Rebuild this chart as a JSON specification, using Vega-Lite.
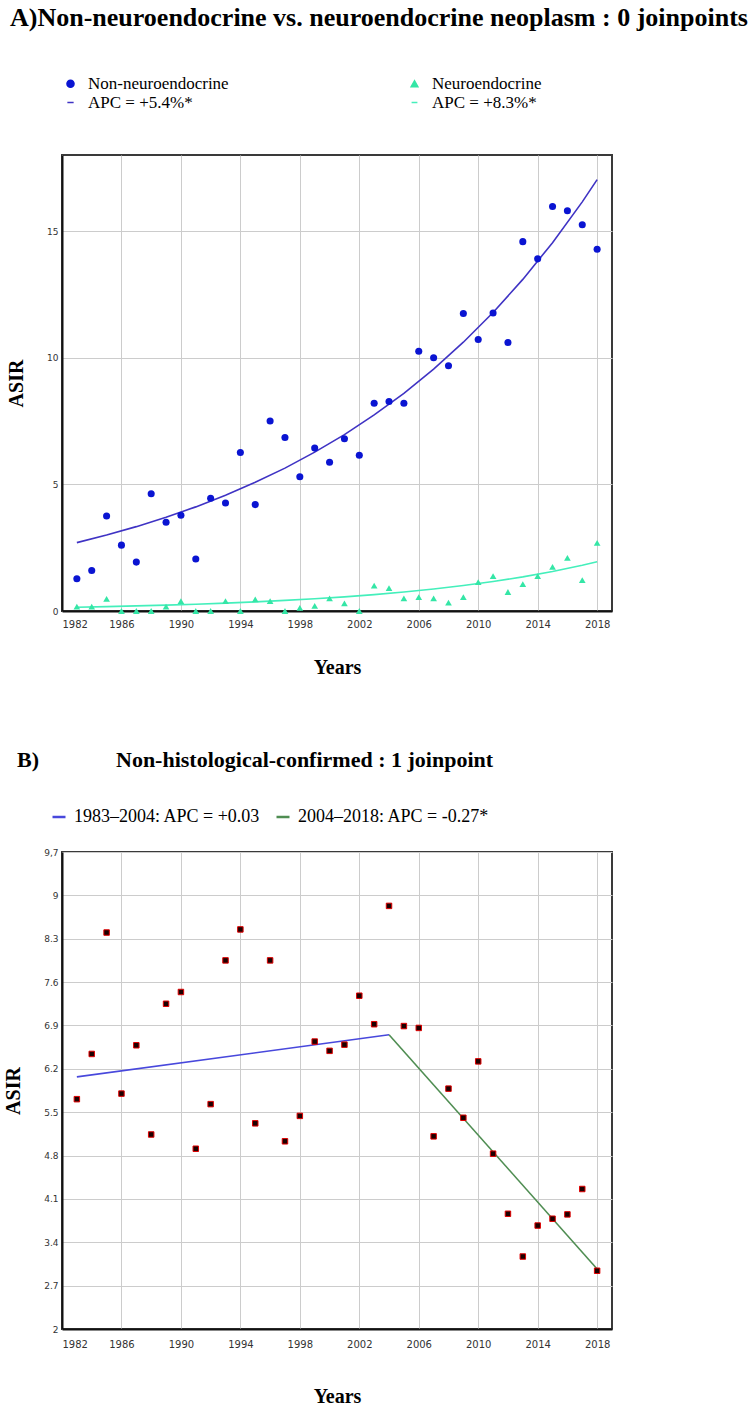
{
  "$schema": "https://vega.github.io/schema/vega-lite/v6.json",
  "padding": {"left": 2, "top": 4, "right": 0, "bottom": 0},
  "background": "white",
  "spacing": 70,
  "resolve": {"scale": {"color": "independent", "shape": "independent", "size": "independent"}, "legend": {"color": "independent", "shape": "independent", "size": "independent"}},
  "datasets": {
    "a_pts": [
      {"year": 1983, "group": "Non-neuroendocrine", "asir": 1.27},
      {"year": 1984, "group": "Non-neuroendocrine", "asir": 1.6},
      {"year": 1985, "group": "Non-neuroendocrine", "asir": 3.75},
      {"year": 1986, "group": "Non-neuroendocrine", "asir": 2.6},
      {"year": 1987, "group": "Non-neuroendocrine", "asir": 1.93},
      {"year": 1988, "group": "Non-neuroendocrine", "asir": 4.63},
      {"year": 1989, "group": "Non-neuroendocrine", "asir": 3.5},
      {"year": 1990, "group": "Non-neuroendocrine", "asir": 3.78},
      {"year": 1991, "group": "Non-neuroendocrine", "asir": 2.05},
      {"year": 1992, "group": "Non-neuroendocrine", "asir": 4.45},
      {"year": 1993, "group": "Non-neuroendocrine", "asir": 4.26},
      {"year": 1994, "group": "Non-neuroendocrine", "asir": 6.26},
      {"year": 1995, "group": "Non-neuroendocrine", "asir": 4.2},
      {"year": 1996, "group": "Non-neuroendocrine", "asir": 7.5},
      {"year": 1997, "group": "Non-neuroendocrine", "asir": 6.85},
      {"year": 1998, "group": "Non-neuroendocrine", "asir": 5.3},
      {"year": 1999, "group": "Non-neuroendocrine", "asir": 6.43},
      {"year": 2000, "group": "Non-neuroendocrine", "asir": 5.87},
      {"year": 2001, "group": "Non-neuroendocrine", "asir": 6.8},
      {"year": 2002, "group": "Non-neuroendocrine", "asir": 6.15},
      {"year": 2003, "group": "Non-neuroendocrine", "asir": 8.2},
      {"year": 2004, "group": "Non-neuroendocrine", "asir": 8.27},
      {"year": 2005, "group": "Non-neuroendocrine", "asir": 8.2},
      {"year": 2006, "group": "Non-neuroendocrine", "asir": 10.25},
      {"year": 2007, "group": "Non-neuroendocrine", "asir": 10.0},
      {"year": 2008, "group": "Non-neuroendocrine", "asir": 9.68},
      {"year": 2009, "group": "Non-neuroendocrine", "asir": 11.74},
      {"year": 2010, "group": "Non-neuroendocrine", "asir": 10.72},
      {"year": 2011, "group": "Non-neuroendocrine", "asir": 11.76},
      {"year": 2012, "group": "Non-neuroendocrine", "asir": 10.6},
      {"year": 2013, "group": "Non-neuroendocrine", "asir": 14.58},
      {"year": 2014, "group": "Non-neuroendocrine", "asir": 13.9},
      {"year": 2015, "group": "Non-neuroendocrine", "asir": 15.97},
      {"year": 2016, "group": "Non-neuroendocrine", "asir": 15.8},
      {"year": 2017, "group": "Non-neuroendocrine", "asir": 15.25},
      {"year": 2018, "group": "Non-neuroendocrine", "asir": 14.28},
      {"year": 1983, "group": "Neuroendocrine", "asir": 0.17},
      {"year": 1984, "group": "Neuroendocrine", "asir": 0.17},
      {"year": 1985, "group": "Neuroendocrine", "asir": 0.48},
      {"year": 1986, "group": "Neuroendocrine", "asir": 0.0},
      {"year": 1987, "group": "Neuroendocrine", "asir": 0.0},
      {"year": 1988, "group": "Neuroendocrine", "asir": 0.0},
      {"year": 1989, "group": "Neuroendocrine", "asir": 0.17},
      {"year": 1990, "group": "Neuroendocrine", "asir": 0.39},
      {"year": 1991, "group": "Neuroendocrine", "asir": 0.0},
      {"year": 1992, "group": "Neuroendocrine", "asir": 0.0},
      {"year": 1993, "group": "Neuroendocrine", "asir": 0.39},
      {"year": 1994, "group": "Neuroendocrine", "asir": 0.0},
      {"year": 1995, "group": "Neuroendocrine", "asir": 0.46},
      {"year": 1996, "group": "Neuroendocrine", "asir": 0.39},
      {"year": 1997, "group": "Neuroendocrine", "asir": 0.0},
      {"year": 1998, "group": "Neuroendocrine", "asir": 0.12},
      {"year": 1999, "group": "Neuroendocrine", "asir": 0.2},
      {"year": 2000, "group": "Neuroendocrine", "asir": 0.5},
      {"year": 2001, "group": "Neuroendocrine", "asir": 0.3},
      {"year": 2002, "group": "Neuroendocrine", "asir": 0.0},
      {"year": 2003, "group": "Neuroendocrine", "asir": 1.0},
      {"year": 2004, "group": "Neuroendocrine", "asir": 0.9},
      {"year": 2005, "group": "Neuroendocrine", "asir": 0.5},
      {"year": 2006, "group": "Neuroendocrine", "asir": 0.55},
      {"year": 2007, "group": "Neuroendocrine", "asir": 0.5},
      {"year": 2008, "group": "Neuroendocrine", "asir": 0.33},
      {"year": 2009, "group": "Neuroendocrine", "asir": 0.55},
      {"year": 2010, "group": "Neuroendocrine", "asir": 1.14},
      {"year": 2011, "group": "Neuroendocrine", "asir": 1.38},
      {"year": 2012, "group": "Neuroendocrine", "asir": 0.75},
      {"year": 2013, "group": "Neuroendocrine", "asir": 1.06},
      {"year": 2014, "group": "Neuroendocrine", "asir": 1.38},
      {"year": 2015, "group": "Neuroendocrine", "asir": 1.74},
      {"year": 2016, "group": "Neuroendocrine", "asir": 2.1},
      {"year": 2017, "group": "Neuroendocrine", "asir": 1.22},
      {"year": 2018, "group": "Neuroendocrine", "asir": 2.69}
    ],
    "a_fit": [
      {"year": 1983, "line": "APC = +5.4%*", "fit": 2.70},
      {"year": 1985, "line": "APC = +5.4%*", "fit": 3.00},
      {"year": 1987, "line": "APC = +5.4%*", "fit": 3.33},
      {"year": 1989, "line": "APC = +5.4%*", "fit": 3.70},
      {"year": 1991, "line": "APC = +5.4%*", "fit": 4.11},
      {"year": 1993, "line": "APC = +5.4%*", "fit": 4.57},
      {"year": 1995, "line": "APC = +5.4%*", "fit": 5.08},
      {"year": 1997, "line": "APC = +5.4%*", "fit": 5.64},
      {"year": 1999, "line": "APC = +5.4%*", "fit": 6.27},
      {"year": 2001, "line": "APC = +5.4%*", "fit": 6.96},
      {"year": 2003, "line": "APC = +5.4%*", "fit": 7.74},
      {"year": 2005, "line": "APC = +5.4%*", "fit": 8.59},
      {"year": 2007, "line": "APC = +5.4%*", "fit": 9.55},
      {"year": 2009, "line": "APC = +5.4%*", "fit": 10.61},
      {"year": 2011, "line": "APC = +5.4%*", "fit": 11.78},
      {"year": 2013, "line": "APC = +5.4%*", "fit": 13.09},
      {"year": 2015, "line": "APC = +5.4%*", "fit": 14.54},
      {"year": 2017, "line": "APC = +5.4%*", "fit": 16.15},
      {"year": 2018, "line": "APC = +5.4%*", "fit": 17.03},
      {"year": 1983, "line": "APC = +8.3%*", "fit": 0.15},
      {"year": 1985, "line": "APC = +8.3%*", "fit": 0.174},
      {"year": 1987, "line": "APC = +8.3%*", "fit": 0.201},
      {"year": 1989, "line": "APC = +8.3%*", "fit": 0.233},
      {"year": 1991, "line": "APC = +8.3%*", "fit": 0.269},
      {"year": 1993, "line": "APC = +8.3%*", "fit": 0.312},
      {"year": 1995, "line": "APC = +8.3%*", "fit": 0.361},
      {"year": 1997, "line": "APC = +8.3%*", "fit": 0.418},
      {"year": 1999, "line": "APC = +8.3%*", "fit": 0.483},
      {"year": 2001, "line": "APC = +8.3%*", "fit": 0.559},
      {"year": 2003, "line": "APC = +8.3%*", "fit": 0.647},
      {"year": 2005, "line": "APC = +8.3%*", "fit": 0.75},
      {"year": 2007, "line": "APC = +8.3%*", "fit": 0.868},
      {"year": 2009, "line": "APC = +8.3%*", "fit": 1.005},
      {"year": 2011, "line": "APC = +8.3%*", "fit": 1.163},
      {"year": 2013, "line": "APC = +8.3%*", "fit": 1.347},
      {"year": 2015, "line": "APC = +8.3%*", "fit": 1.559},
      {"year": 2017, "line": "APC = +8.3%*", "fit": 1.805},
      {"year": 2018, "line": "APC = +8.3%*", "fit": 1.942}
    ],
    "b_pts": [
      {"year": 1983, "asir": 5.71},
      {"year": 1984, "asir": 6.44},
      {"year": 1985, "asir": 8.4},
      {"year": 1986, "asir": 5.8},
      {"year": 1987, "asir": 6.58},
      {"year": 1988, "asir": 5.14},
      {"year": 1989, "asir": 7.25},
      {"year": 1990, "asir": 7.44},
      {"year": 1991, "asir": 4.91},
      {"year": 1992, "asir": 5.63},
      {"year": 1993, "asir": 7.95},
      {"year": 1994, "asir": 8.45},
      {"year": 1995, "asir": 5.32},
      {"year": 1996, "asir": 7.95},
      {"year": 1997, "asir": 5.03},
      {"year": 1998, "asir": 5.44},
      {"year": 1999, "asir": 6.64},
      {"year": 2000, "asir": 6.49},
      {"year": 2001, "asir": 6.59},
      {"year": 2002, "asir": 7.38},
      {"year": 2003, "asir": 6.92},
      {"year": 2004, "asir": 8.83},
      {"year": 2005, "asir": 6.89},
      {"year": 2006, "asir": 6.86},
      {"year": 2007, "asir": 5.11},
      {"year": 2008, "asir": 5.88},
      {"year": 2009, "asir": 5.41},
      {"year": 2010, "asir": 6.32},
      {"year": 2011, "asir": 4.83},
      {"year": 2012, "asir": 3.86},
      {"year": 2013, "asir": 3.17},
      {"year": 2014, "asir": 3.67},
      {"year": 2015, "asir": 3.78},
      {"year": 2016, "asir": 3.85},
      {"year": 2017, "asir": 4.26},
      {"year": 2018, "asir": 2.94}
    ],
    "b_fit": [
      {"year": 1983, "segment": "1983–2004: APC = +0.03", "fit": 6.07},
      {"year": 2004, "segment": "1983–2004: APC = +0.03", "fit": 6.75},
      {"year": 2004, "segment": "2004–2018: APC = -0.27*", "fit": 6.75},
      {"year": 2018, "segment": "2004–2018: APC = -0.27*", "fit": 2.97}
    ]
  },
  "vconcat": [
    {
      "width": 550,
      "height": 456,
      "title": {
        "text": "A)Non-neuroendocrine vs. neuroendocrine neoplasm : 0 joinpoints",
        "anchor": "start",
        "frame": "group",
        "dx": -52,
        "fontSize": 26,
        "offset": 44
      },
      "layer": [
        {
          "data": {"name": "a_fit"},
          "mark": {"type": "line", "strokeWidth": 1.6},
          "encoding": {
            "x": {"field": "year", "type": "quantitative", "scale": {"domain": [1982, 2019], "nice": false, "zero": false},
              "axis": {"values": [1982, 1986, 1990, 1994, 1998, 2002, 2006, 2010, 2014, 2018], "format": "d", "title": "Years", "labelFontSize": 10, "labelPadding": 8, "titlePadding": 28}},
            "y": {"field": "fit", "type": "quantitative", "scale": {"domain": [0, 18], "nice": false},
              "axis": {"values": [0, 5, 10, 15], "title": "ASIR", "labelPadding": 4, "titlePadding": 20}},
            "color": {"field": "line", "type": "nominal"}
          }
        },
        {
          "data": {"name": "a_pts"},
          "mark": {"type": "point", "filled": true, "opacity": 1},
          "encoding": {
            "x": {"field": "year", "type": "quantitative"},
            "y": {"field": "asir", "type": "quantitative"},
            "color": {
              "field": "group", "type": "nominal",
              "scale": {"domain": ["Non-neuroendocrine", "Neuroendocrine", "APC = +5.4%*", "APC = +8.3%*"], "range": ["#0a14d2", "#34e6a6", "#3f33c4", "#44efbb"]},
              "legend": {
                "title": null, "orient": "none", "legendX": 0, "legendY": -80, "columns": 2, "direction": "horizontal",
                "columnPadding": 177, "rowPadding": 1, "labelOffset": 9, "labelFontSize": 17,
                "encode": {"symbols": {"update": {
                  "stroke": {"scale": "color", "field": "value"},
                  "strokeWidth": {"signal": "indexof(['APC = +5.4%*', 'APC = +8.3%*'], datum.value) >= 0 ? 2 : 1"},
                  "size": {"signal": "indexof(['APC = +5.4%*', 'APC = +8.3%*'], datum.value) >= 0 ? 196 : (datum.value == 'Neuroendocrine' ? 34 : 50)"}
                }}}
              }
            },
            "shape": {
              "field": "group", "type": "nominal",
              "scale": {"domain": ["Non-neuroendocrine", "Neuroendocrine", "APC = +5.4%*", "APC = +8.3%*"], "range": ["circle", "triangle-up", "stroke", "stroke"]}
            },
            "size": {
              "field": "group", "type": "nominal",
              "scale": {"domain": ["Non-neuroendocrine", "Neuroendocrine", "APC = +5.4%*", "APC = +8.3%*"], "range": [50, 34, 196, 196]}
            }
          }
        }
      ]
    },
    {
      "width": 550,
      "height": 477,
      "title": {
        "text": "B)\u00a0\u00a0\u00a0\u00a0\u00a0\u00a0\u00a0\u00a0\u00a0\u00a0\u00a0\u00a0\u00a0\u00a0Non-histological-confirmed : 1 joinpoint",
        "anchor": "start",
        "frame": "group",
        "dx": -45,
        "fontSize": 22,
        "offset": 36
      },
      "layer": [
        {
          "data": {"name": "b_fit"},
          "mark": {"type": "line", "strokeWidth": 1.6},
          "encoding": {
            "x": {"field": "year", "type": "quantitative", "scale": {"domain": [1982, 2019], "nice": false, "zero": false},
              "axis": {"values": [1982, 1986, 1990, 1994, 1998, 2002, 2006, 2010, 2014, 2018], "format": "d", "title": "Years", "labelFontSize": 10, "labelPadding": 10, "titlePadding": 37}},
            "y": {"field": "fit", "type": "quantitative", "scale": {"domain": [2, 9.7], "nice": false, "zero": false},
              "axis": {"values": [2, 2.7, 3.4, 4.1, 4.8, 5.5, 6.2, 6.9, 7.6, 8.3, 9, 9.7], "labelExpr": "datum.value == 9.7 ? '9,7' : format(datum.value, '~g')", "title": "ASIR", "labelPadding": 4, "titlePadding": 20}},
            "color": {
              "field": "segment", "type": "nominal",
              "scale": {"domain": ["1983–2004: APC = +0.03", "2004–2018: APC = -0.27*"], "range": ["#4848dc", "#4f8d52"]},
              "legend": {
                "title": null, "orient": "none", "legendX": -12, "legendY": -44, "direction": "horizontal",
                "symbolType": "stroke", "symbolSize": 169, "symbolStrokeWidth": 2.5, "labelOffset": 6,
                "columnPadding": 10, "labelFontSize": 18
              }
            }
          }
        },
        {
          "data": {"name": "b_pts"},
          "mark": {"type": "point", "shape": "square", "filled": true, "fill": "#1c0000", "stroke": "#e00000", "strokeWidth": 1, "size": 30, "opacity": 1},
          "encoding": {
            "x": {"field": "year", "type": "quantitative"},
            "y": {"field": "asir", "type": "quantitative"}
          }
        }
      ]
    }
  ],
  "config": {
    "view": {"stroke": "#3a3a3a", "strokeWidth": 2},
    "axis": {
      "grid": true, "gridColor": "#cccccc", "gridWidth": 1,
      "domainColor": "#111111", "domainWidth": 2, "ticks": false,
      "labelFont": "DejaVu Sans", "labelFontSize": 9, "labelColor": "#333333",
      "titleFont": "Liberation Serif", "titleFontSize": 20, "titleFontWeight": "bold", "titleColor": "#000000"
    },
    "legend": {"labelFont": "Liberation Serif", "labelColor": "#000000", "labelLimit": 0},
    "title": {"font": "Liberation Serif", "fontWeight": "bold", "color": "#000000"}
  }
}
